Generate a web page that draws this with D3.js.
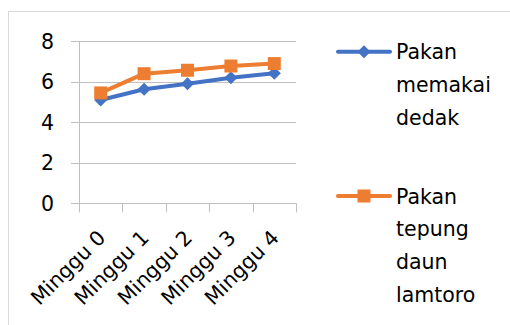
<!DOCTYPE html>
<html><head><meta charset="utf-8">
<script src="https://cdn.jsdelivr.net/npm/d3@7"></script>
<style>body{margin:0;background:#fff}svg{display:block}text{font-family:"DejaVu Sans",sans-serif;fill:#000}</style>
</head><body>
<script>
const categories = ["Minggu 0","Minggu 1","Minggu 2","Minggu 3","Minggu 4"];
const dedak = [5.1, 5.63, 5.9, 6.2, 6.42];
const lamtoro = [5.45, 6.4, 6.57, 6.78, 6.9];
const yTicks = [0,2,4,6,8];
const seriesNames = [["Pakan","memakai","dedak"],["Pakan","tepung","daun","lamtoro"]];

const W=510,H=325,FS=20.5;
const svg=d3.select("body").append("svg").attr("width",W).attr("height",H);
svg.append("rect").attr("x",8.5).attr("y",11.5).attr("width",W).attr("height",H).attr("fill","none").attr("stroke","#d9d9d9");

const x=d3.scaleBand().domain(categories).range([79,296]);
const y=d3.scaleLinear().domain([0,8]).range([203.3,41.3]);
const g=svg.append("g");
g.selectAll("line.grid").data(yTicks).join("line")
 .attr("x1",71).attr("x2",296).attr("y1",d=>Math.round(y(d))+0.5).attr("y2",d=>Math.round(y(d))+0.5)
 .attr("stroke","#bfbfbf").attr("stroke-width",1);
g.append("line").attr("x1",79.5).attr("x2",79.5).attr("y1",y(8)).attr("y2",y(0)+1).attr("stroke","#bfbfbf");
const bounds=categories.map(c=>x(c)).concat([x.range()[1]]);
g.selectAll("line.xt").data(bounds).join("line")
 .attr("x1",d=>Math.round(d)+0.5).attr("x2",d=>Math.round(d)+0.5).attr("y1",y(0)).attr("y2",y(0)+9)
 .attr("stroke","#bfbfbf");
g.selectAll("text.yl").data(yTicks).join("text")
 .attr("x",54).attr("y",d=>y(d)).attr("dy","0.36em").attr("text-anchor","end")
 .attr("font-size",FS).text(d=>d);
g.selectAll("text.xl").data(categories).join("text")
 .attr("transform",d=>`translate(${x(d)+x.bandwidth()/2+6},${239}) rotate(-45)`)
 .attr("text-anchor","end").attr("font-size",FS).text(d=>d);

const cx=d=>x(d)+x.bandwidth()/2;
const line=d3.line().x((v,i)=>cx(categories[i])).y(v=>y(v));
const colors=["#4472C4","#ED7D31"];
const diamond="M0,-6.5L6.5,0L0,6.5L-6.5,0Z";
const square="M-6.5,-6.5H6.5V6.5H-6.5Z";
[dedak,lamtoro].forEach((vals,si)=>{
  g.append("path").attr("d",line(vals)).attr("fill","none").attr("stroke",colors[si]).attr("stroke-width",4).attr("stroke-linejoin","round");
  g.selectAll(null).data(vals).join("path")
   .attr("transform",(v,i)=>`translate(${cx(categories[i])},${y(v)})`)
   .attr("d",si===0?diamond:square).attr("fill",colors[si]);
});
const legY=[51.7,196];
seriesNames.forEach((lines,si)=>{
  const ly=legY[si];
  svg.append("line").attr("x1",338).attr("x2",390).attr("y1",ly).attr("y2",ly).attr("stroke",colors[si]).attr("stroke-width",4).attr("stroke-linecap","round");
  svg.append("path").attr("transform",`translate(364,${ly})`).attr("d",si===0?diamond:square).attr("fill",colors[si]);
  lines.forEach((t,li)=>{
    svg.append("text").attr("x",396).attr("y",ly+7.5+li*32.8).attr("font-size",FS).text(t);
  });
});
</script>
</body></html>
